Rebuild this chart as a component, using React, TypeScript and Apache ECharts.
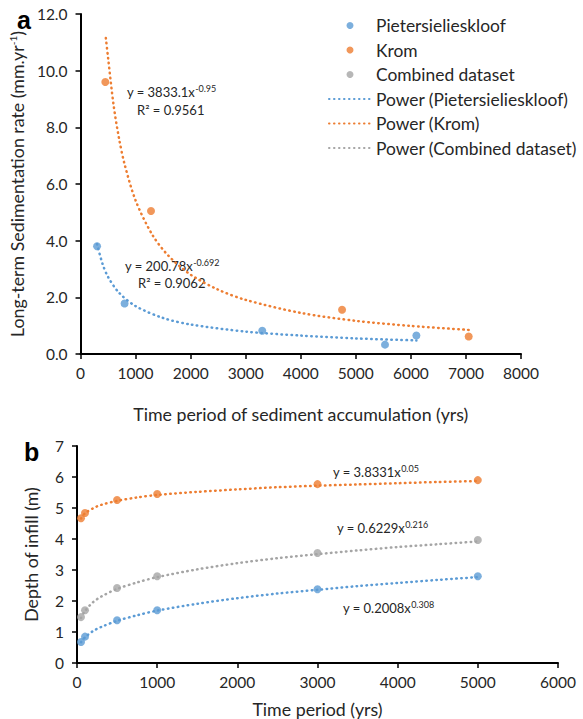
import React, { useEffect, useRef } from "react";
import * as echarts from "echarts";

// ---- Panel a: long-term sedimentation rate ----
const pietX = [300, 800, 3300, 5530, 6100];
const pietY = [3.8, 1.78, 0.82, 0.33, 0.65];
const kromX = [450, 1280, 4750, 7050];
const kromY = [9.6, 5.05, 1.56, 0.62];
// power trendlines
const pietTrendX = [300, 400, 500, 700, 1000, 1500, 2000, 3000, 4000, 5000, 6100];
const pietTrendY = [3.88, 3.18, 2.72, 2.16, 1.69, 1.27, 1.04, 0.79, 0.65, 0.55, 0.48];
const kromTrendX = [460, 500, 600, 700, 800, 1000, 1300, 1600, 2000, 2500, 3000, 4000, 5000, 6000, 7050];
const kromTrendY = [11.15, 10.46, 8.79, 7.6, 6.7, 5.42, 4.22, 3.46, 2.8, 2.27, 1.91, 1.45, 1.17, 0.99, 0.85];

// ---- Panel b: depth of infill ----
const periodsB = [50, 100, 500, 1000, 3000, 5000];
const kromDepth = [4.67, 4.84, 5.26, 5.45, 5.77, 5.9];
const combinedDepth = [1.48, 1.7, 2.42, 2.8, 3.55, 3.97];
const pietDepth = [0.68, 0.85, 1.38, 1.7, 2.38, 2.8];
const trendBX = [50, 100, 200, 300, 500, 750, 1000, 1500, 2000, 2500, 3000, 3500, 4000, 4500, 5000];
const kromTrendB = [4.66, 4.83, 4.99, 5.1, 5.23, 5.34, 5.42, 5.52, 5.6, 5.67, 5.72, 5.76, 5.8, 5.84, 5.87];
const combinedTrendB = [1.45, 1.68, 1.96, 2.14, 2.39, 2.6, 2.77, 3.02, 3.22, 3.38, 3.51, 3.63, 3.74, 3.83, 3.92];
const pietTrendB = [0.67, 0.83, 1.03, 1.16, 1.36, 1.54, 1.69, 1.91, 2.09, 2.24, 2.36, 2.48, 2.58, 2.68, 2.77];

const legendNames = [
  "Pietersielieskloof",
  "Krom",
  "Combined dataset",
  "Power (Pietersielieskloof)",
  "Power (Krom)",
  "Power (Combined dataset)",
];

const BLUE = "#5B9BD5";
const ORANGE = "#ED7D31";
const GREY = "#A5A5A5";
const FONT = "Lato";
const TXT = "#262626";

const zip = (xs: number[], ys: number[]) => xs.map((x, i) => [x, ys[i]]);

export default function App() {
  const ref = useRef<HTMLDivElement>(null);
  useEffect(() => {
    if (!ref.current) return;
    const chart = echarts.init(ref.current, null, { renderer: "svg" });
    const axisCommon = {
      axisLine: { lineStyle: { color: "#000", width: 2 } },
      axisTick: { show: true, length: 5, lineStyle: { color: "#000", width: 1.5 } },
      splitLine: { show: false },
    };
    const labelStyle = { color: TXT, fontFamily: FONT, fontSize: 15.5 };
    const nameStyle = {
      color: TXT,
      fontFamily: FONT,
      fontSize: 17.8,
      rich: { sup: { fontSize: 10, padding: [0, 0, 8, 0], fontFamily: FONT, color: TXT } },
    };
    const dotted = (color: string) => ({
      color,
      width: 2.5,
      type: [0.5, 4.5] as any,
      cap: "round" as any,
    });
    const scatter = (name: string, data: number[][], color: string, idx: number) => ({
      type: "scatter",
      name,
      data,
      xAxisIndex: idx,
      yAxisIndex: idx,
      symbol: "circle",
      symbolSize: 8,
      itemStyle: { color },
      z: 5,
    });
    const trend = (name: string, data: number[][], color: string, idx: number) => ({
      type: "line",
      name,
      data,
      xAxisIndex: idx,
      yAxisIndex: idx,
      symbol: "none",
      showSymbol: false,
      smooth: 0.3,
      lineStyle: dotted(color),
      itemStyle: { color },
      z: 3,
    });
    const eqRich = {
      sup: { fontSize: 9, fontFamily: FONT, fill: TXT, padding: [0, 0, 7, 0] },
    };
    const eq = (text: string, x: number, y: number) => ({
      type: "text",
      x,
      y,
      style: {
        text,
        rich: eqRich,
        fontFamily: FONT,
        fontSize: 13,
        fill: TXT,
        verticalAlign: "middle",
      },
    });
    const hiddenSymbol = { color: "rgba(0,0,0,0)", opacity: 0, borderWidth: 0 };

    chart.setOption({
      animation: false,
      backgroundColor: "#fff",
      legend: {
        data: legendNames.map((name, i) =>
          i < 3 ? { name } : { name, itemStyle: hiddenSymbol }
        ),
        orient: "vertical",
        left: 328,
        top: 17,
        padding: 0,
        itemWidth: 42,
        itemHeight: 7,
        itemGap: 7.5,
        textStyle: { color: TXT, fontFamily: FONT, fontSize: 17.4, lineHeight: 17 },
        selectedMode: false,
      },
      grid: [
        { left: 77, top: 14, width: 444, height: 340 },
        { left: 77, top: 446, width: 481, height: 217 },
      ],
      xAxis: [
        {
          ...axisCommon,
          gridIndex: 0,
          type: "value",
          min: 0,
          max: 8000,
          interval: 1000,
          axisLabel: { ...labelStyle, margin: 11, formatter: (v: number) => String(v) },
          name: "Time period of sediment accumulation (yrs)",
          nameLocation: "middle",
          nameGap: 51,
          nameTextStyle: nameStyle,
        },
        {
          ...axisCommon,
          gridIndex: 1,
          type: "value",
          min: 0,
          max: 6000,
          interval: 1000,
          axisLabel: { ...labelStyle, margin: 11, formatter: (v: number) => String(v) },
          name: "Time period (yrs)",
          nameLocation: "middle",
          nameGap: 37,
          nameTextStyle: nameStyle,
        },
      ],
      yAxis: [
        {
          ...axisCommon,
          gridIndex: 0,
          type: "value",
          min: 0,
          max: 12,
          interval: 2,
          axisLabel: { ...labelStyle, margin: 13, formatter: (v: number) => v.toFixed(1) },
          name: "Long-term Sedimentation rate (mm.yr{sup|-1})",
          nameLocation: "middle",
          nameRotate: 90,
          nameGap: 40,
          nameTextStyle: nameStyle,
        },
        {
          ...axisCommon,
          gridIndex: 1,
          type: "value",
          min: 0,
          max: 7,
          interval: 1,
          axisLabel: { ...labelStyle, margin: 13 },
          name: "Depth of infill (m)",
          nameLocation: "middle",
          nameRotate: 90,
          nameGap: 37,
          nameTextStyle: nameStyle,
        },
      ],
      series: [
        scatter(legendNames[0], zip(pietX, pietY), BLUE, 0),
        scatter(legendNames[1], zip(kromX, kromY), ORANGE, 0),
        trend(legendNames[3], zip(pietTrendX, pietTrendY), BLUE, 0),
        trend(legendNames[4], zip(kromTrendX, kromTrendY), ORANGE, 0),
        scatter(legendNames[0], zip(periodsB, pietDepth), BLUE, 1),
        scatter(legendNames[1], zip(periodsB, kromDepth), ORANGE, 1),
        scatter(legendNames[2], zip(periodsB, combinedDepth), GREY, 1),
        trend(legendNames[3], zip(trendBX, pietTrendB), BLUE, 1),
        trend(legendNames[4], zip(trendBX, kromTrendB), ORANGE, 1),
        trend(legendNames[5], zip(trendBX, combinedTrendB), GREY, 1),
      ],
      graphic: [
        {
          type: "text",
          x: 17,
          y: 20,
          style: { text: "a", fontFamily: "Liberation Sans", fontWeight: "bold", fontSize: 25, fill: "#000", verticalAlign: "middle" },
        },
        {
          type: "text",
          x: 24,
          y: 452,
          style: { text: "b", fontFamily: "Liberation Sans", fontWeight: "bold", fontSize: 25, fill: "#000", verticalAlign: "middle" },
        },
        eq("y = 3833.1x{sup|-0.95}", 127, 92),
        eq("R² = 0.9561", 137, 110),
        eq("y = 200.78x{sup|-0.692}", 125, 266),
        eq("R² = 0.9062", 138, 283),
        eq("y = 3.8331x{sup|0.05}", 333, 472),
        eq("y = 0.6229x{sup|0.216}", 337, 528),
        eq("y = 0.2008x{sup|0.308}", 343, 608),
      ],
    });
    return () => chart.dispose();
  }, []);
  return (
    <div
      ref={ref}
      style={{ position: "absolute", left: 0, top: 0, width: 583, height: 719 }}
    />
  );
}
